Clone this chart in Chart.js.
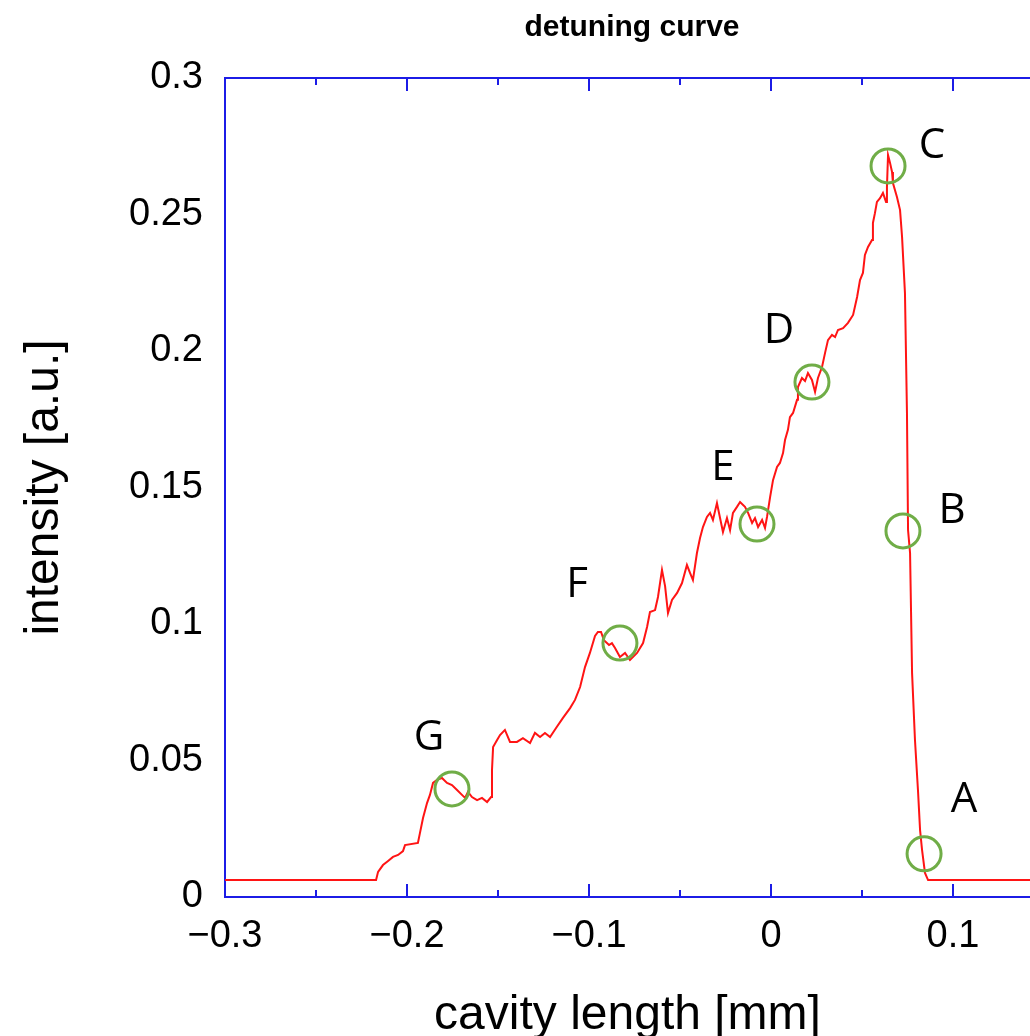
<!DOCTYPE html>
<html>
<head>
<meta charset="utf-8">
<title>detuning curve</title>
<script src="https://cdn.jsdelivr.net/npm/chart.js@4.4.1/dist/chart.umd.min.js"></script>
<style>
  html, body { margin: 0; padding: 0; background: #fff; }
  #wrap { width: 1030px; height: 1036px; }
</style>
</head>
<body>
<div id="wrap"><canvas id="grafico" width="1030" height="1036"></canvas></div>
<script>
/*---------------------------------
   DATOS
 ----------------------------------*/
var cavityLength = [
    -0.3000, -0.2170, -0.2159, -0.2132, -0.2104, -0.2077, -0.2049, -0.2022, -0.2011, -0.1940,
    -0.1929, -0.1912, -0.1890, -0.1874, -0.1857, -0.1835, -0.1808, -0.1780, -0.1753, -0.1725,
    -0.1698, -0.1681, -0.1665, -0.1643, -0.1615, -0.1588, -0.1560, -0.1538, -0.1533, -0.1527,
    -0.1505, -0.1489, -0.1462, -0.1434, -0.1396, -0.1363, -0.1324, -0.1297, -0.1269, -0.1242,
    -0.1214, -0.1181, -0.1143, -0.1104, -0.1077, -0.1049, -0.1022, -0.0995, -0.0967, -0.0951,
    -0.0934, -0.0918, -0.0890, -0.0874, -0.0857, -0.0830, -0.0802, -0.0775, -0.0736, -0.0703,
    -0.0681, -0.0665, -0.0637, -0.0621, -0.0599, -0.0582, -0.0566, -0.0544, -0.0516, -0.0489,
    -0.0462, -0.0445, -0.0429, -0.0407, -0.0390, -0.0374, -0.0352, -0.0335, -0.0319, -0.0297,
    -0.0280, -0.0264, -0.0242, -0.0225, -0.0209, -0.0187, -0.0170, -0.0143, -0.0126, -0.0104,
    -0.0088, -0.0071, -0.0049, -0.0033, -0.0022, -0.0005, 0.0011, 0.0033, 0.0049, 0.0066,
    0.0077, 0.0093, 0.0104, 0.0121, 0.0143, 0.0148, 0.0170, 0.0187, 0.0203, 0.0225,
    0.0242, 0.0258, 0.0280, 0.0297, 0.0313, 0.0335, 0.0352, 0.0368, 0.0396, 0.0423,
    0.0451, 0.0473, 0.0489, 0.0505, 0.0516, 0.0533, 0.0555, 0.0560, 0.0571, 0.0582,
    0.0599, 0.0615, 0.0632, 0.0637, 0.0643, 0.0654, 0.0665, 0.0670, 0.0692, 0.0709,
    0.0720, 0.0736, 0.0747, 0.0753, 0.0764, 0.0775, 0.0791, 0.0808, 0.0819, 0.0830,
    0.0846, 0.0863, 0.2000
];

var intensity = [
    0.0062, 0.0062, 0.0092, 0.0117, 0.0132, 0.0147, 0.0154, 0.0168, 0.0190, 0.0198,
    0.0234, 0.0289, 0.0344, 0.0374, 0.0418, 0.0429, 0.0436, 0.0418, 0.0410, 0.0392,
    0.0374, 0.0363, 0.0385, 0.0366, 0.0355, 0.0363, 0.0348, 0.0366, 0.0465, 0.0549,
    0.0575, 0.0593, 0.0612, 0.0568, 0.0568, 0.0582, 0.0564, 0.0601, 0.0586, 0.0601,
    0.0586, 0.0619, 0.0656, 0.0692, 0.0722, 0.0769, 0.0842, 0.0894, 0.0956, 0.0971,
    0.0971, 0.0941, 0.0923, 0.0930, 0.0912, 0.0879, 0.0894, 0.0868, 0.0894, 0.0930,
    0.0989, 0.1044, 0.1051, 0.1099, 0.1198, 0.1139, 0.1040, 0.1088, 0.1114, 0.1150,
    0.1216, 0.1187, 0.1161, 0.1260, 0.1315, 0.1355, 0.1392, 0.1407, 0.1381, 0.1443,
    0.1388, 0.1337, 0.1388, 0.1344, 0.1407, 0.1429, 0.1447, 0.1429, 0.1407, 0.1370,
    0.1388, 0.1355, 0.1381, 0.1352, 0.1392, 0.1465, 0.1527, 0.1575, 0.1590, 0.1626,
    0.1674, 0.1711, 0.1758, 0.1773, 0.1821, 0.1868, 0.1901, 0.1890, 0.1919, 0.1894,
    0.1850, 0.1901, 0.1941, 0.1993, 0.2040, 0.2059, 0.2051, 0.2077, 0.2084, 0.2103,
    0.2132, 0.2198, 0.2260, 0.2286, 0.2352, 0.2381, 0.2407, 0.2469, 0.2505, 0.2546,
    0.2560, 0.2579, 0.2546, 0.2601, 0.2718, 0.2689, 0.2656, 0.2615, 0.2564, 0.2516,
    0.2418, 0.2212, 0.1773, 0.1344, 0.1260, 0.0821, 0.0575, 0.0385, 0.0245, 0.0172,
    0.0088, 0.0062, 0.0062
];

// puntos marcados (circulos verdes) y sus letras
var spotNames = ['A', 'B', 'C', 'D', 'E', 'F', 'G'];
var spotX = [0.0841, 0.0725, 0.0643, 0.0225, -0.0077, -0.0830, -0.1753];
var spotY = [0.0158, 0.1341, 0.2678, 0.1886, 0.1366, 0.0930, 0.0396];
var nameX = [0.1060, 0.0995, 0.0885, 0.0044, -0.0264, -0.1066, -0.1879];
var nameY = [0.0366, 0.1425, 0.2762, 0.2084, 0.1582, 0.1154, 0.0593];

// ticks (mayores con etiqueta, menores a mitad de camino)
var xTicks = [-0.3, -0.2, -0.1, 0, 0.1];
var xTickLabels = ['\u22120.3', '\u22120.2', '\u22120.1', '0', '0.1'];
var xMinorTicks = [-0.25, -0.15, -0.05, 0.05];
var yTicks = [0, 0.05, 0.1, 0.15, 0.2, 0.25, 0.3];
var yTickLabels = ['0', '0.05', '0.1', '0.15', '0.2', '0.25', '0.3'];

var AZUL = 'rgb(28, 28, 230)';
var ROJO = 'rgb(255, 20, 20)';
var VERDE = 'rgb(112, 173, 71)';
var FUENTE = '"Liberation Sans", Arial, sans-serif';

function buscaEtiqueta(valores, etiquetas, v) {
    for (var i = 0; i < valores.length; i++) {
        if (Math.abs(valores[i] - v) < 1e-9) return etiquetas[i];
    }
    return '';
}

/*---------------------------------
   PLUGIN: marco, ticks internos, letras, titulo
 ----------------------------------*/
var extras = {
    id: 'extras',
    afterDraw: function(chart) {
        var ctx = chart.ctx;
        var area = chart.chartArea;
        var sx = chart.scales.x;
        var sy = chart.scales.y;

        ctx.save();
        ctx.strokeStyle = AZUL;
        ctx.lineWidth = 2;

        // linea superior del marco
        ctx.beginPath();
        ctx.moveTo(area.left, area.top);
        ctx.lineTo(area.right, area.top);
        ctx.stroke();

        // ticks hacia dentro (abajo y arriba)
        sx.ticks.forEach(function(t) {
            var px = Math.round(sx.getPixelForValue(t.value));
            if (px <= area.left + 1) return;
            var len = buscaEtiqueta(xTicks, xTickLabels, t.value) !== '' ? 13 : 7;
            ctx.beginPath();
            ctx.moveTo(px, area.bottom);
            ctx.lineTo(px, area.bottom - len);
            ctx.moveTo(px, area.top);
            ctx.lineTo(px, area.top + len);
            ctx.stroke();
        });

        // letras
        ctx.fillStyle = '#000';
        ctx.font = '42px "Open Sans", "Liberation Sans", sans-serif';
        ctx.textAlign = 'center';
        ctx.textBaseline = 'alphabetic';
        for (var i = 0; i < spotNames.length; i++) {
            ctx.fillText(spotNames[i], sx.getPixelForValue(nameX[i]), sy.getPixelForValue(nameY[i]) + 15);
        }

        // titulo
        ctx.font = 'bold 30px ' + FUENTE;
        ctx.fillText('detuning curve', 632, 36);
        ctx.restore();
    }
};

/*---------------------------------
   GRAFICO
 ----------------------------------*/
var curva = cavityLength.map(function(x, i) { return {x: x, y: intensity[i]}; });
var marcas = spotX.map(function(x, i) { return {x: x, y: spotY[i]}; });

var config = {
    type: 'scatter',
    data: {
        datasets: [{
            label: 'marcas',
            data: marcas,
            showLine: false,
            pointStyle: 'circle',
            pointRadius: 17,
            pointHoverRadius: 17,
            pointBorderWidth: 3,
            pointBorderColor: VERDE,
            pointBackgroundColor: 'rgba(0,0,0,0)',
            order: 0
        }, {
            label: 'detuning',
            data: curva,
            showLine: true,
            borderColor: ROJO,
            borderWidth: 2,
            tension: 0,
            pointRadius: 0,
            order: 1
        }]
    },
    options: {
        responsive: false,
        animation: false,
        layout: { autoPadding: false, padding: { top: 78, right: 0, left: 0, bottom: 0 } },
        plugins: {
            legend: { display: false },
            tooltip: { enabled: false }
        },
        scales: {
            x: {
                type: 'linear',
                min: -0.3,
                max: 0.1423,
                afterBuildTicks: function(scale) {
                    scale.ticks = xTicks.concat(xMinorTicks)
                        .sort(function(a, b) { return a - b; })
                        .map(function(v) { return {value: v}; });
                },
                afterFit: function(scale) { scale.height = 139; },
                grid: { display: false, drawTicks: false },
                border: { display: true, color: AZUL, width: 2 },
                ticks: {
                    autoSkip: false,
                    maxRotation: 0,
                    padding: 17,
                    color: '#000',
                    font: { family: FUENTE, size: 38 },
                    callback: function(v) { return buscaEtiqueta(xTicks, xTickLabels, v); }
                },
                title: {
                    display: true,
                    text: 'cavity length [mm]',
                    color: '#000',
                    font: { family: FUENTE, size: 48, lineHeight: 1 },
                    padding: { top: 0, bottom: -4 }
                }
            },
            y: {
                type: 'linear',
                min: 0,
                max: 0.3,
                afterBuildTicks: function(scale) {
                    scale.ticks = yTicks.map(function(v) { return {value: v}; });
                },
                afterFit: function(scale) { scale.width = 225; },
                grid: { display: false, drawTicks: false },
                border: { display: true, color: AZUL, width: 2 },
                ticks: {
                    padding: 22,
                    color: '#000',
                    font: { family: FUENTE, size: 38 },
                    callback: function(v) { return buscaEtiqueta(yTicks, yTickLabels, v); }
                },
                title: {
                    display: true,
                    text: 'intensity [a.u.]',
                    color: '#000',
                    font: { family: FUENTE, size: 48, lineHeight: 1 },
                    padding: { top: 21, bottom: 0 }
                }
            }
        }
    },
    plugins: [extras]
};

window.onload = function() {
    var ctx = document.getElementById('grafico').getContext('2d');
    window.miGrafico = new Chart(ctx, config);
};
</script>
</body>
</html>
